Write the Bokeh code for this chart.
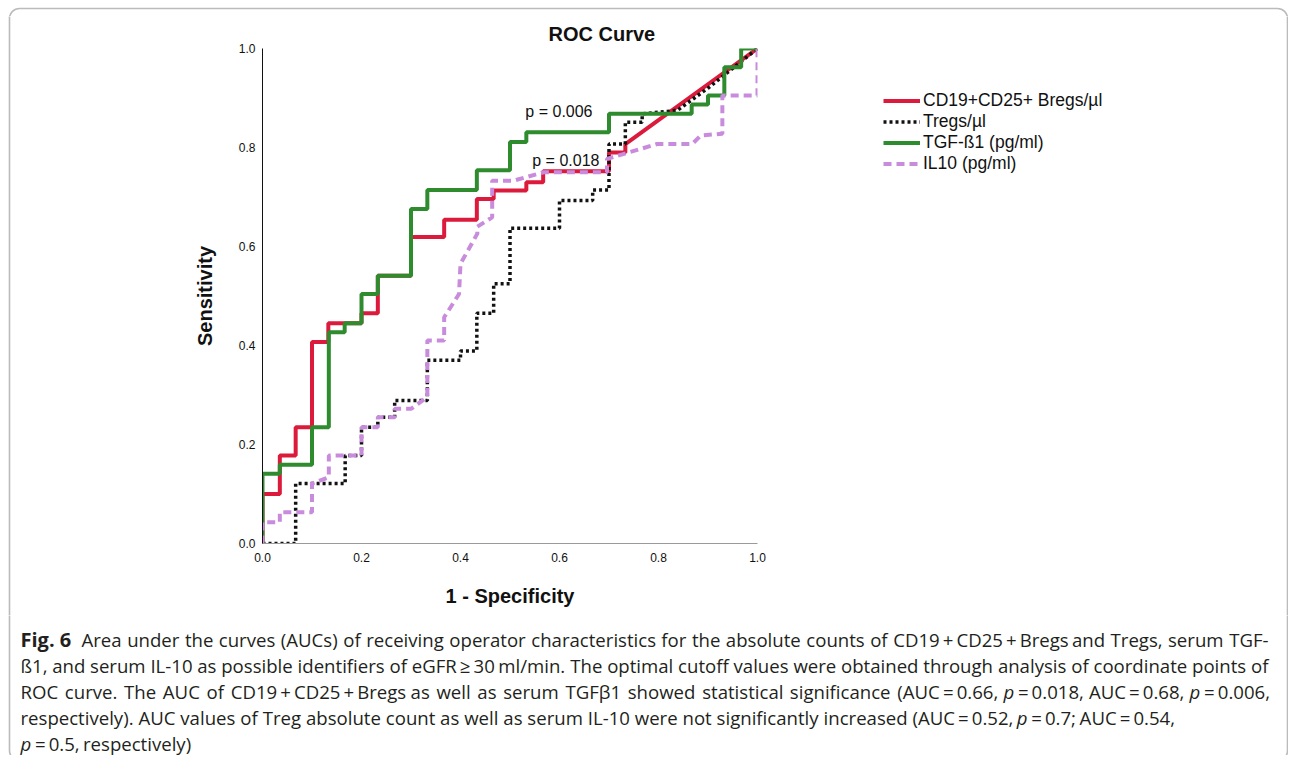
from bokeh.plotting import figure
from bokeh.layouts import column, row
from bokeh.models import (Label, Legend, LegendItem, BoxAnnotation, Range1d,
                          FixedTicker, PrintfTickFormatter)
from bokeh.embed import file_html
from bokeh.resources import INLINE

# ---------------- data (ROC coordinates: 1 - specificity, sensitivity) -------------
bregs_fpr = [0, 0, 0.035, 0.035, 0.067, 0.067, 0.10, 0.10, 0.133, 0.133, 0.20, 0.20,
             0.233, 0.233, 0.30, 0.30, 0.367, 0.367, 0.433, 0.433, 0.467, 0.467,
             0.533, 0.533, 0.567, 0.567, 0.70, 0.70, 0.733, 0.733, 1.0]
bregs_tpr = [0, 0.10, 0.10, 0.178, 0.178, 0.235, 0.235, 0.407, 0.407, 0.445, 0.445, 0.465,
             0.465, 0.541, 0.541, 0.619, 0.619, 0.654, 0.654, 0.696, 0.696, 0.713,
             0.713, 0.730, 0.730, 0.752, 0.752, 0.790, 0.790, 0.807, 1.0]

tregs_fpr = [0, 0.067, 0.067, 0.167, 0.167, 0.20, 0.20, 0.233, 0.233, 0.267, 0.267,
             0.333, 0.333, 0.40, 0.40, 0.433, 0.433, 0.467, 0.467, 0.50, 0.50, 0.60,
             0.60, 0.667, 0.667, 0.70, 0.70, 0.733, 0.733, 0.767, 0.767, 0.838,
             0.90, 0.95, 1.0]
tregs_tpr = [0, 0, 0.121, 0.121, 0.178, 0.178, 0.235, 0.235, 0.255, 0.255, 0.289,
             0.289, 0.370, 0.370, 0.389, 0.389, 0.465, 0.465, 0.525, 0.525, 0.637, 0.637,
             0.693, 0.693, 0.714, 0.714, 0.807, 0.807, 0.851, 0.851, 0.868, 0.875,
             0.920, 0.960, 1.0]

tgf_fpr = [0, 0, 0.035, 0.035, 0.10, 0.10, 0.134, 0.134, 0.166, 0.166, 0.20, 0.20,
           0.233, 0.233, 0.30, 0.30, 0.333, 0.333, 0.433, 0.433, 0.50, 0.50, 0.533,
           0.533, 0.70, 0.70, 0.867, 0.867, 0.90, 0.90, 0.933, 0.933, 0.967, 0.967, 1.0]
tgf_tpr = [0, 0.141, 0.141, 0.159, 0.159, 0.235, 0.235, 0.427, 0.427, 0.445, 0.445, 0.504,
           0.504, 0.541, 0.541, 0.676, 0.676, 0.714, 0.714, 0.754, 0.754, 0.811, 0.811,
           0.831, 0.831, 0.868, 0.868, 0.887, 0.887, 0.905, 0.905, 0.962, 0.962, 1.0, 1.0]

il10_fpr = [0, 0, 0.035, 0.035, 0.10, 0.10, 0.134, 0.134, 0.20, 0.20, 0.233, 0.233,
            0.267, 0.267, 0.30, 0.333, 0.333, 0.367, 0.367, 0.397, 0.40, 0.434, 0.434,
            0.464, 0.464, 0.507, 0.568, 0.696, 0.696, 0.797, 0.868, 0.885, 0.929,
            0.929, 1.0, 1.0]
il10_tpr = [0, 0.043, 0.043, 0.063, 0.063, 0.121, 0.134, 0.178, 0.178, 0.235, 0.235, 0.255,
            0.255, 0.272, 0.272, 0.296, 0.410, 0.410, 0.457, 0.504, 0.565, 0.626, 0.640,
            0.659, 0.733, 0.733, 0.750, 0.750, 0.777, 0.807, 0.807, 0.824, 0.828,
            0.905, 0.905, 1.0]

series_names = ["CD19+CD25+ Bregs/\u00b5l", "Tregs/\u00b5l", "TGF-\u00df1 (pg/ml)", "IL10 (pg/ml)"]
series_colors = ["#dc1a3c", "#111111", "#2e8b2e", "#c98bdc"]
series_dash = ["solid", "3 3", "solid", "8 5"]
series_width = [4, 3.5, 4, 4]
tick_values = [0.0, 0.2, 0.4, 0.6, 0.8, 1.0]
p_labels = ["p = 0.006", "p = 0.018"]
p_label_pos = [(0.531, 0.873), (0.545, 0.774)]

title_text = "ROC Curve"
x_title = "1 - Specificity"
y_title = "Sensitivity"

# caption: words separated by spaces, {p} = italic p
caption_head = "Fig. 6"
caption_lines = [
    "Area under the curves (AUCs) of receiving operator characteristics for the absolute counts of CD19\u2009+\u2009CD25\u2009+\u2009Bregs and Tregs, serum TGF-",
    "\u00df1, and serum IL-10 as possible identifiers of eGFR\u2009\u2265\u200930 ml/min. The optimal cutoff values were obtained through analysis of coordinate points of",
    "ROC curve. The AUC of CD19\u2009+\u2009CD25\u2009+\u2009Bregs as well as serum TGF\u03b21 showed statistical significance (AUC\u2009=\u20090.66, {p}\u2009=\u20090.018, AUC\u2009=\u20090.68, {p}\u2009=\u20090.006,",
    "respectively). AUC values of Treg absolute count as well as serum IL-10 were not significantly increased (AUC\u2009=\u20090.52, {p}\u2009=\u20090.7; AUC\u2009=\u20090.54,",
    "{p}\u2009=\u20090.5, respectively)",
]
caption_justified = [True, True, True, False, False]

# ---------------- layout constants (page pixels) ----------------
TOTAL_W = 1288
T_H = 16                 # top strip (top border)
C_H = 140                # caption strip
C_TOP = 615
MID_H = C_TOP - T_H      # middle row
L_W = 180                # left strip
A_W = 597                # main chart
B_W = TOTAL_W - L_W - A_W
FRAME = 495
FR_LEFT, FR_TOP = 262, 48
BORDER_L, BORDER_R, BORDER_T, BORDER_B = 9, 1287, 8, 760
BORDER_COLOR = "#1e1e1e"
BIG = 10000


def strip(w, h):
    f = figure(width=w, height=h, output_backend="svg", toolbar_location=None,
               x_range=Range1d(0, w), y_range=Range1d(0, h),
               x_axis_type=None, y_axis_type=None, min_border=0, frame_align=False)
    f.grid.visible = False
    f.outline_line_color = None
    f.background_fill_color = "white"
    f.border_fill_color = "white"
    return f


def border_box(**kw):
    return BoxAnnotation(fill_color=None, fill_alpha=0, line_color=BORDER_COLOR,
                         line_width=1.6, border_radius=10, **kw)


# ---- top strip: top border ----
T = strip(TOTAL_W, T_H)
T.add_layout(border_box(left=BORDER_L, right=BORDER_R, top=T_H - BORDER_T, bottom=-BIG))

# ---- left strip: left border ----
L = strip(L_W, MID_H)
L.add_layout(border_box(left=BORDER_L, right=BIG, top=BIG, bottom=-BIG))

# ---- main chart ----
A = figure(width=A_W, height=MID_H, output_backend="svg", toolbar_location=None,
           x_range=Range1d(0, 1), y_range=Range1d(0, 1), frame_align=False,
           title=title_text,
           min_border_left=FR_LEFT - L_W, min_border_right=A_W - (FR_LEFT - L_W) - FRAME,
           min_border_top=FR_TOP - T_H, min_border_bottom=MID_H - (FR_TOP - T_H) - FRAME)
A.title.text_font = "Liberation Sans"
A.title.text_font_size = "20px"
A.title.text_font_style = "bold"
A.title.text_color = "#111111"
A.title.align = "left"
A.title.offset = 548 - FR_LEFT
A.title.standoff = 7
A.xgrid.visible = False
A.ygrid.visible = False
A.outline_line_color = None
A.background_fill_color = "white"
A.border_fill_color = "white"

for ax in (A.xaxis[0], A.yaxis[0]):
    ax.ticker = FixedTicker(ticks=tick_values)
    ax.formatter = PrintfTickFormatter(format="%.1f")
    ax.major_tick_out = 0
    ax.major_tick_in = 0
    ax.minor_tick_out = 0
    ax.minor_tick_in = 0
    ax.major_label_text_font = "Liberation Sans"
    ax.major_label_text_font_size = "12px"
    ax.major_label_text_color = "#111111"
    ax.axis_label_text_font = "Liberation Sans"
    ax.axis_label_text_font_size = "20px"
    ax.axis_label_text_font_style = "bold"
    ax.axis_label_text_color = "#111111"
A.xaxis.axis_line_color = "#9a9a9a"
A.yaxis.axis_line_color = "#111111"
A.xaxis.major_label_standoff = 9
A.yaxis.major_label_standoff = 7
A.xaxis.axis_label = x_title
A.yaxis.axis_label = y_title
A.xaxis.axis_label_standoff = 20
A.yaxis.axis_label_standoff = 20

curves = [(bregs_fpr, bregs_tpr), (tregs_fpr, tregs_tpr), (tgf_fpr, tgf_tpr), (il10_fpr, il10_tpr)]
for (xs, ys), c, d, w in zip(curves, series_colors, series_dash, series_width):
    A.line(xs, ys, line_color=c, line_width=w, line_dash=d)

for txt, (xx, yy) in zip(p_labels, p_label_pos):
    A.add_layout(Label(x=xx, y=yy, text=txt, text_align="left", text_baseline="middle",
                       text_font="Liberation Sans", text_font_size="16px",
                       text_color="#111111"))

# ---- right strip: legend and right border ----
B = strip(B_W, MID_H)
B.add_layout(border_box(left=-BIG, right=BORDER_R - L_W - A_W, top=BIG, bottom=-BIG))
items = []
for name, c, d, w in zip(series_names, series_colors, series_dash, series_width):
    # off-screen stand-in renderer that only supplies the legend glyph style
    r = B.line([-20, -10], [-20, -10], line_color=c, line_width=w, line_dash=d)
    items.append(LegendItem(label=name, renderers=[r]))
leg_top = 89.5 - T_H
legend = Legend(items=items, location=(883 - L_W - A_W, MID_H - leg_top - 84),
                orientation="vertical", padding=0, margin=0, spacing=0,
                glyph_width=37, glyph_height=21, label_height=21, label_standoff=3,
                label_text_font="Liberation Sans", label_text_font_size="17.5px",
                label_text_color="#111111", border_line_color=None,
                background_fill_alpha=0)
B.add_layout(legend, "center")

# ---- caption strip ----
C = strip(TOTAL_W, C_H)
C.add_layout(border_box(left=BORDER_L, right=BORDER_R, top=BIG, bottom=C_H - (BORDER_B - C_TOP)))
cap_font = "Open Sans"
CAP_PX = 18.6
HEAD_PX = 20
cap_color = "#231f20"
line_centers = [638.5, 664.5, 690.5, 716.5, 742.5]
CAP_LEFT, CAP_RIGHT, LINE1_LEFT = 20, 1268, 81

# approximate Open Sans advance widths (em) used only to space words for justification
_W = {" ": .26, "\u2009": .13, ",": .245, ".": .266, "(": .296, ")": .296, "-": .322, "/": .367,
      ";": .266, ":": .266, "=": .572, "+": .572, "\u2265": .572, "\u00df": .63, "\u03b2": .62,
      "A": .633, "B": .648, "C": .631, "D": .729, "E": .556, "F": .516, "G": .728, "H": .738,
      "I": .279, "L": .519, "M": .903, "N": .754, "O": .779, "P": .602, "R": .618, "S": .549,
      "T": .553, "U": .728, "a": .556, "b": .613, "c": .476, "d": .613, "e": .561, "f": .339,
      "g": .548, "h": .614, "i": .253, "j": .253, "k": .525, "l": .253, "m": .930, "n": .614,
      "o": .604, "p": .613, "q": .613, "r": .408, "s": .477, "t": .353, "u": .614, "v": .501,
      "w": .778, "x": .524, "y": .502, "z": .477}


def est_w(s):
    return sum(_W.get(ch, .572) for ch in s) * CAP_PX


def runs(word):
    out = []
    parts = word.split("{p}")
    for k, part in enumerate(parts):
        if k > 0:
            out.append(("p", "italic"))
        if part:
            out.append((part, "normal"))
    return out


def cap_label(x, py, text, style="normal", align="left", size=CAP_PX):
    return Label(x=x, y=C_H - (py - C_TOP), text=text, text_align=align,
                 text_baseline="middle", text_font=cap_font, text_font_size=f"{size}px",
                 text_font_style=style, text_color=cap_color)


C.add_layout(cap_label(CAP_LEFT, line_centers[0], caption_head, "bold", size=HEAD_PX))

for i, (line, just) in enumerate(zip(caption_lines, caption_justified)):
    words = line.split(" ")
    left = LINE1_LEFT if i == 0 else CAP_LEFT
    widths = [est_w(w.replace("{p}", "p")) for w in words]
    if just and len(words) > 1:
        gap = (CAP_RIGHT - left - sum(widths)) / (len(words) - 1)
        gap = max(gap, 0.6 * _W[" "] * CAP_PX)
    else:
        gap = _W[" "] * CAP_PX
    x = left
    for j, w in enumerate(words):
        last = just and j == len(words) - 1
        rr = runs(w)
        if last and len(rr) == 1:
            C.add_layout(cap_label(CAP_RIGHT, line_centers[i], rr[0][0], rr[0][1], "right"))
        else:
            xr = x
            for txt, sty in rr:
                C.add_layout(cap_label(xr, line_centers[i], txt, sty))
                xr += est_w(txt)
        x += widths[j] + gap

layout = column(T, row(L, A, B), C)
open("out.html", "w").write(file_html(layout, INLINE))
